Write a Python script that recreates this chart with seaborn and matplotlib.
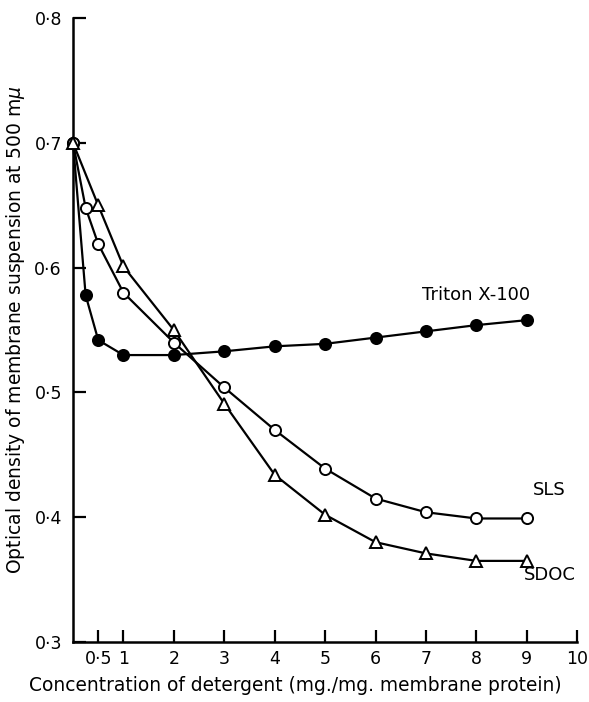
import pandas as pd
import matplotlib.pyplot as plt
import seaborn as sns

# ── data ──────────────────────────────────────────────────────────────────
triton_x = [0, 0.25, 0.5, 1, 2, 3, 4, 5, 6, 7, 8, 9]
triton_y = [0.700, 0.578, 0.542, 0.530, 0.530, 0.533, 0.537, 0.539, 0.544, 0.549, 0.554, 0.558]

sls_x = [0, 0.25, 0.5, 1, 2, 3, 4, 5, 6, 7, 8, 9]
sls_y = [0.700, 0.648, 0.619, 0.580, 0.540, 0.504, 0.470, 0.439, 0.415, 0.404, 0.399, 0.399]

sdoc_x = [0, 0.5, 1, 2, 3, 4, 5, 6, 7, 8, 9]
sdoc_y = [0.700, 0.650, 0.601, 0.550, 0.491, 0.434, 0.402, 0.380, 0.371, 0.365, 0.365]

x_ticks = [0.5, 1, 2, 3, 4, 5, 6, 7, 8, 9, 10]
x_tick_labels = ['0·5', '1', '2', '3', '4', '5', '6', '7', '8', '9', '10']
y_ticks = [0.3, 0.4, 0.5, 0.6, 0.7, 0.8]
y_tick_labels = ['0·3', '0·4', '0·5', '0·6', '0·7', '0·8']

df = pd.concat([
    pd.DataFrame({'conc': triton_x, 'od': triton_y, 'detergent': 'Triton X-100'}),
    pd.DataFrame({'conc': sls_x, 'od': sls_y, 'detergent': 'SLS'}),
    pd.DataFrame({'conc': sdoc_x, 'od': sdoc_y, 'detergent': 'SDOC'}),
])

sns.set_theme(style='ticks')
plt.rcParams['font.family'] = ['DejaVu Sans']
plt.rcParams['text.color'] = 'black'
plt.rcParams['axes.labelcolor'] = 'black'

fig = plt.figure(figsize=(5.89, 7.02), dpi=100)
ax = fig.add_axes([0.124, 0.0855, 0.856, 0.8885])

styles = {
    'Triton X-100': dict(marker='o', markersize=8, markerfacecolor='black'),
    'SLS': dict(marker='o', markersize=8, markerfacecolor='white'),
    'SDOC': dict(marker='^', markersize=8, markerfacecolor='white'),
}
for name, kw in styles.items():
    sub = df[df['detergent'] == name]
    sns.lineplot(data=sub, x='conc', y='od', ax=ax, color='black', linewidth=1.6,
                 markeredgecolor='black', markeredgewidth=1.4, clip_on=False,
                 zorder=3, **kw)

ax.set_xlim(0, 10)
ax.set_ylim(0.3, 0.8)
ax.set_xticks(x_ticks)
ax.set_xticklabels(x_tick_labels)
ax.set_yticks(y_ticks)
ax.set_yticklabels(y_tick_labels)
ax.tick_params(direction='in', length=9, width=1.6, labelsize=12.5, colors='black')
ax.tick_params(axis='y', pad=8)
ax.tick_params(axis='x', pad=6)

for side in ['top', 'right']:
    ax.spines[side].set_visible(False)
for side in ['left', 'bottom']:
    ax.spines[side].set_linewidth(1.8)
    ax.spines[side].set_color('black')

ax.set_xlabel('Concentration of detergent (mg./mg. membrane protein)', fontsize=13.4)
ax.xaxis.set_label_coords(0.44, -0.055)
ax.set_ylabel(r'Optical density of membrane suspension at 500 m$\mu$', fontsize=13.5, labelpad=5)

ax.text(8.0, 0.578, 'Triton X-100', fontsize=13, ha='center', va='center')
ax.text(9.45, 0.422, 'SLS', fontsize=13, ha='center', va='center')
ax.text(9.45, 0.354, 'SDOC', fontsize=13, ha='center', va='center')

fig.savefig('out.png', dpi=100)
